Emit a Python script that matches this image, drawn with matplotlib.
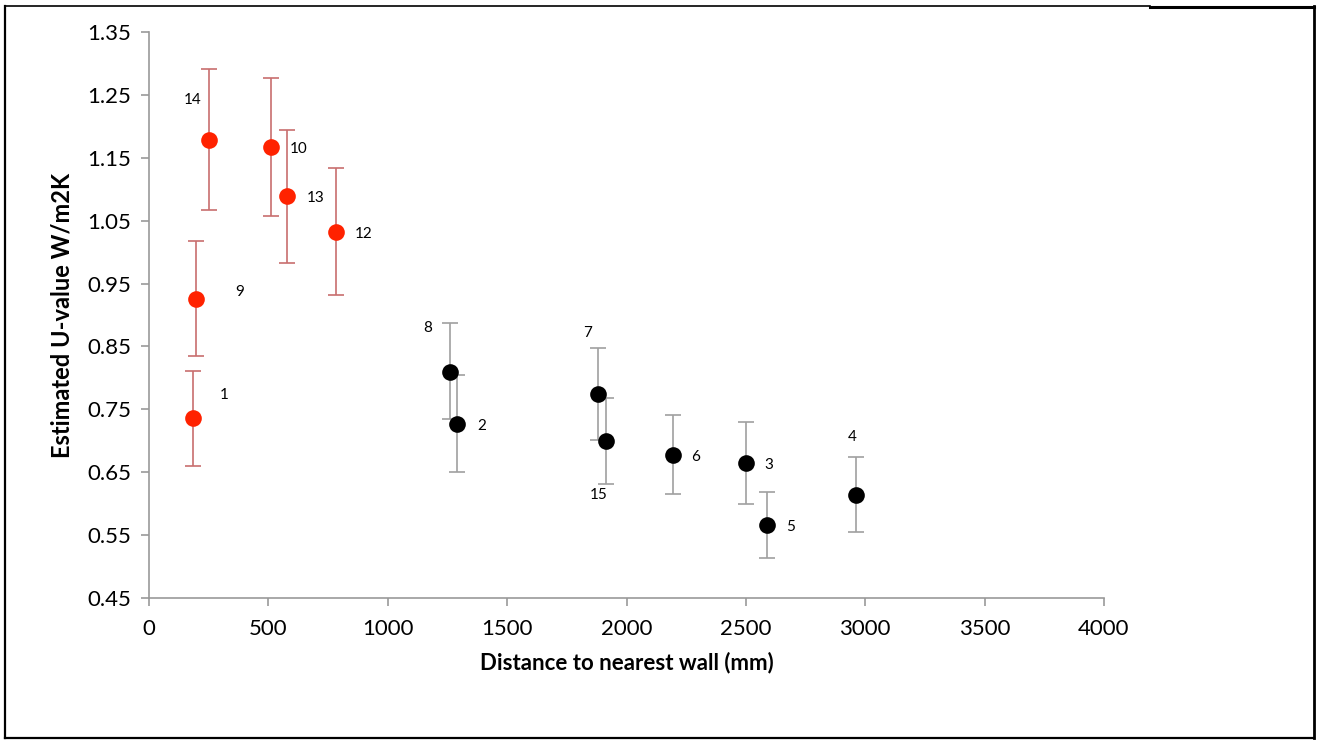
import matplotlib
matplotlib.use("Agg")
import matplotlib.pyplot as plt
from matplotlib.lines import Line2D

# Red group (near walls)
red_ids = ["1", "9", "14", "10", "13", "12"]
red_x = [184, 197, 251, 511, 578, 783]
red_y = [0.736, 0.925, 1.178, 1.167, 1.089, 1.032]
red_hi = [0.811, 1.018, 1.291, 1.277, 1.194, 1.134]
red_lo = [0.660, 0.835, 1.067, 1.057, 0.983, 0.932]

# Black group
blk_ids = ["8", "2", "7", "15", "6", "3", "5", "4"]
blk_x = [1261, 1290, 1881, 1914, 2195, 2500, 2588, 2961]
blk_y = [0.809, 0.727, 0.774, 0.700, 0.677, 0.665, 0.566, 0.614]
blk_hi = [0.887, 0.805, 0.848, 0.768, 0.741, 0.730, 0.619, 0.674]
blk_lo = [0.735, 0.650, 0.701, 0.631, 0.615, 0.600, 0.514, 0.555]

# label offsets (pixels)
red_off = [(31, 23), (44, 7), (-16, 40), (28, -2), (29, -2), (28, -2)]
blk_off = [(-22, 44), (25, -2), (-11, 61), (-7, -54), (23, -2), (23, -2), (24, -2), (-4, 58)]

x_ticks = [0, 500, 1000, 1500, 2000, 2500, 3000, 3500, 4000]
y_ticks = [0.45, 0.55, 0.65, 0.75, 0.85, 0.95, 1.05, 1.15, 1.25, 1.35]

plt.rcParams['font.family'] = ['Lato', 'DejaVu Sans']

fig = plt.figure(figsize=(13.2, 7.4), dpi=100)
ax = fig.add_axes([149/1320, 1-598/740, (1104-149)/1320, (598-32)/740])

def draw(xs, ys, hi, lo, color, ecolor):
    yerr = [[y - l for y, l in zip(ys, lo)], [h - y for y, h in zip(ys, hi)]]
    ax.errorbar(xs, ys, yerr=yerr, fmt='none', ecolor=ecolor, elinewidth=1.2,
                capsize=6, capthick=1.2, zorder=2)
    ax.plot(xs, ys, 'o', color=color, markersize=12, markeredgewidth=0, zorder=3)

draw(red_x, red_y, red_hi, red_lo, '#ff2200', '#c86e6e')
draw(blk_x, blk_y, blk_hi, blk_lo, '#000000', '#a0a0a0')

for ids, xs, ys, offs in [(red_ids, red_x, red_y, red_off), (blk_ids, blk_x, blk_y, blk_off)]:
    for t, x, y, o in zip(ids, xs, ys, offs):
        ax.annotate(t, (x, y), xytext=o, textcoords='offset pixels',
                    ha='center', va='center', fontsize=11, color='#000000')

ax.set_xlim(0, 4000)
ax.set_ylim(0.45, 1.35)
ax.set_xticks(x_ticks)
ax.set_xticklabels([str(v) for v in x_ticks])
ax.set_yticks(y_ticks)
ax.set_yticklabels([f"{v:.2f}" for v in y_ticks])
for s in ['top', 'right']:
    ax.spines[s].set_visible(False)
for s in ['left', 'bottom']:
    ax.spines[s].set_color('#999999')
    ax.spines[s].set_linewidth(1.2)
ax.tick_params(axis='both', colors='#999999', length=6, width=1.2, labelsize=16,
               labelcolor='#000000')
ax.tick_params(axis='x', pad=9)
ax.tick_params(axis='y', pad=7)
ax.set_xlabel('Distance to nearest wall (mm)', fontsize=16, fontweight='bold', labelpad=9)
ax.set_ylabel('Estimated U-value W/m2K', fontsize=17, fontweight='bold', labelpad=10)

# figure border
W, H = 1320, 740
def fl(x0, y0, x1, y1, lw):
    fig.add_artist(Line2D([x0/W, x1/W], [1-y0/H, 1-y1/H], color='black', lw=lw,
                          transform=fig.transFigure))
fl(5, 6, 1150, 6, 1.2)
fl(1150, 6.5, 1314, 6.5, 2.2)
fl(5, 6, 5, 738, 1.6)
fl(1313.5, 6, 1313.5, 738, 2.0)
fl(5, 737.5, 1314, 737.5, 1.6)

fig.savefig('out.png', dpi=100)
